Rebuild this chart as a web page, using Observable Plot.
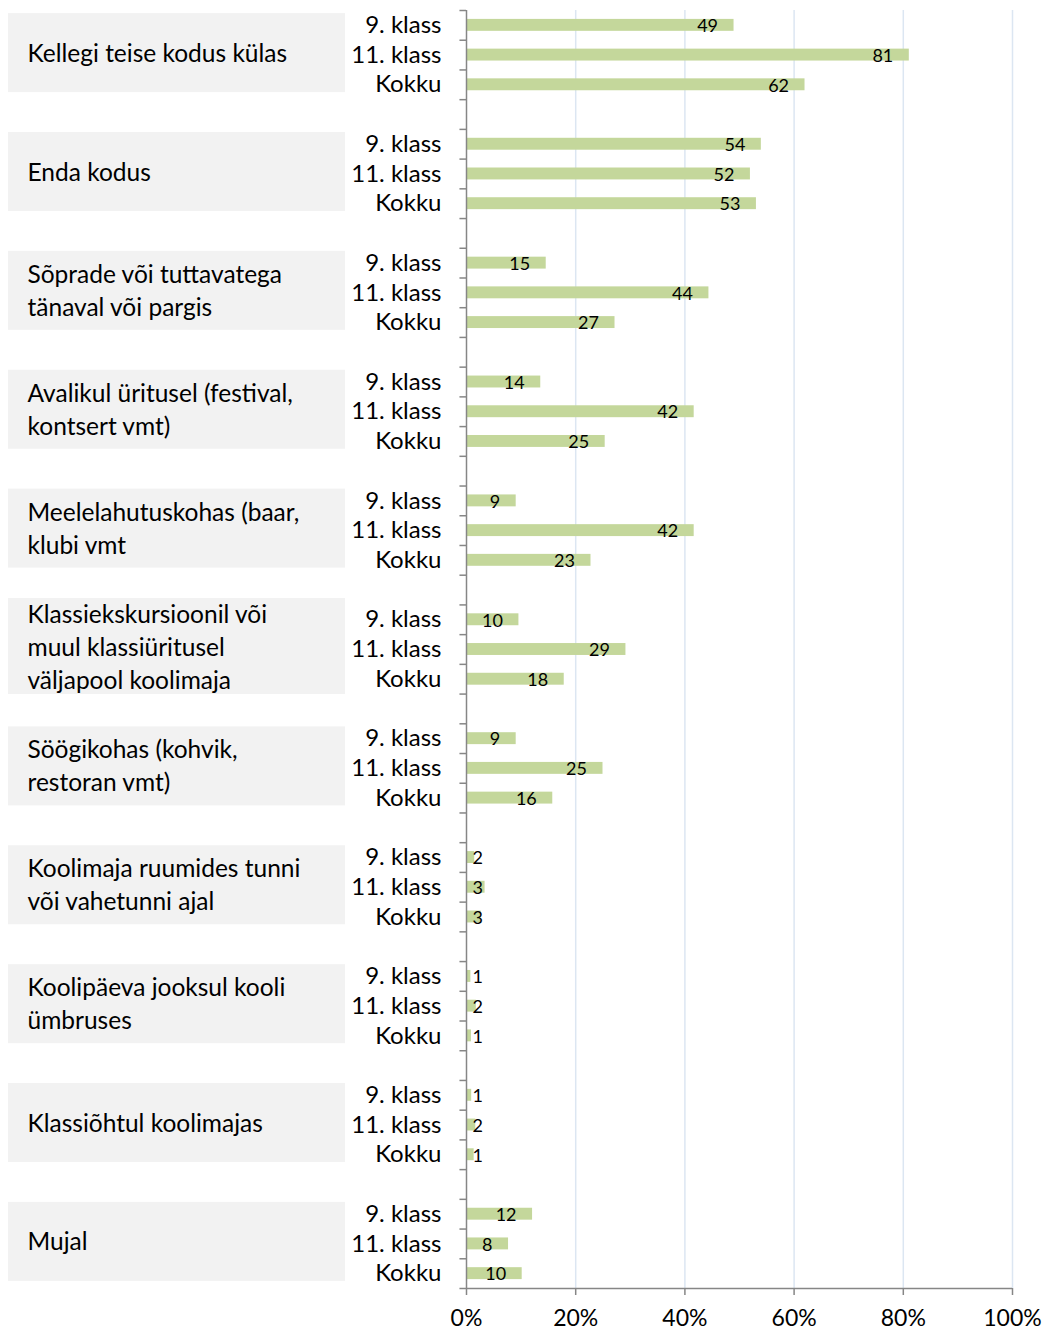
<!DOCTYPE html>
<html>
<head>
<meta charset="utf-8">
<script src="https://cdn.jsdelivr.net/npm/d3@7"></script>
<script src="https://cdn.jsdelivr.net/npm/@observablehq/plot@0.6"></script>
<style>
  html, body { margin: 0; padding: 0; background: #fff; }
  #chart { width: 1046px; height: 1331px; }
</style>
</head>
<body>
<div id="chart"></div>
<script>
// ---- data ----
const categories = [
  "Kellegi teise kodus külas",
  "Enda kodus",
  "Sõprade või tuttavatega\ntänaval või pargis",
  "Avalikul üritusel (festival,\nkontsert vmt)",
  "Meelelahutuskohas (baar,\nklubi vmt",
  "Klassiekskursioonil või\nmuul klassiüritusel\nväljapool koolimaja",
  "Söögikohas (kohvik,\nrestoran vmt)",
  "Koolimaja ruumides tunni\nvõi vahetunni ajal",
  "Koolipäeva jooksul kooli\nümbruses",
  "Klassiõhtul koolimajas",
  "Mujal"
];
const groups = ["9. klass", "11. klass", "Kokku"];
const klass9  = [49, 54, 14.6, 13.6, 9.1, 9.6, 9.1, 1.5, 0.8, 0.95, 12.1];
const klass11 = [81.1, 52, 44.4, 41.7, 41.7, 29.2, 25, 3.4, 1.8, 1.7, 7.7];
const kokku   = [62, 53.1, 27.2, 25.4, 22.8, 17.9, 15.8, 2.7, 0.9, 1.4, 10.2];
const xTicks  = [0, 20, 40, 60, 80, 100];

// ---- build table ----
const series = [klass9, klass11, kokku];
const rows = [];
const keys = [];
categories.forEach((cat, i) => {
  groups.forEach((g, j) => {
    const key = i + "|" + g;
    keys.push(key);
    rows.push({key, cat, group: g, value: series[j][i], lines: cat.split("\n").length});
  });
  if (i < categories.length - 1) keys.push(i + "|gap");
});
const midRows = rows.filter(d => d.group === groups[1]);
const barKeys = rows.map(d => d.key);

// ---- layout ----
const W = 1046, H = 1331;
const mTop = 10, mBottom = 43, mLeft = 466, mRight = 34;
const step = (H - mTop - mBottom) / keys.length;
const pxPerUnit = (W - mLeft - mRight) / 100;
const px = p => (p - mLeft) / pxPerUnit; // pixel x -> data x (for margin decorations)

const font = "Lato, 'Open Sans', sans-serif";
const fmt = d3.format(".0f");

const chart = Plot.plot({
  width: W,
  height: H,
  marginTop: mTop,
  marginBottom: mBottom,
  marginLeft: mLeft,
  marginRight: mRight,
  style: {fontFamily: font, fontSize: "24px", color: "#000", background: "#fff", overflow: "visible"},
  x: {domain: [0, 100], axis: null},
  y: {type: "band", domain: keys, paddingInner: 0, paddingOuter: 0, axis: null},
  marks: [
    // gridlines
    Plot.ruleX(xTicks.slice(1), {stroke: "#dce6f2", strokeWidth: 1.5}),
    // category label boxes
    Plot.barX(midRows.filter(d => d.lines < 3), {
      x1: px(8), x2: px(345), y: "key", fill: "#f2f2f2",
      insetTop: -(41.5 - step / 2), insetBottom: -(37.5 - step / 2)
    }),
    Plot.barX(midRows.filter(d => d.lines >= 3), {
      x1: px(8), x2: px(345), y: "key", fill: "#f2f2f2",
      insetTop: -(51 - step / 2), insetBottom: -(45 - step / 2)
    }),
    Plot.text(midRows, {
      x: px(8), y: "key", text: "cat", textAnchor: "start", dx: 19, dy: -4,
      fontSize: 24.5, lineHeight: 33 / 24.5, fill: "#000"
    }),
    // bars
    Plot.barX(rows, {x: "value", y: "key", fill: "#c4d79b", insetTop: 8.9, insetBottom: 8.9}),
    // value labels
    Plot.text(rows.filter(d => d.value >= 5), {
      x: "value", y: "key", text: d => fmt(d.value), textAnchor: "end", dx: -16, dy: 1, fontSize: 18, fill: "#000"
    }),
    Plot.text(rows.filter(d => d.value < 5), {
      x: 0, y: "key", text: d => fmt(d.value), textAnchor: "start", dx: 6, dy: 1, fontSize: 18, fill: "#000"
    }),
    // y axis line
    Plot.ruleX([0], {stroke: "#868686", strokeWidth: 1.5}),
    // boundary ticks
    Plot.ruleY(keys, {y: d => d, x1: -1.2, x2: 0, dy: -step / 2, stroke: "#868686", strokeWidth: 1.5}),
    // bottom axis line
    Plot.ruleY([keys[keys.length - 1]], {y: d => d, x1: -1.2, x2: 100, dy: step / 2, stroke: "#868686", strokeWidth: 1.5}),
    // group labels
    Plot.axisY({ticks: barKeys, tickFormat: k => k.split("|")[1], tickSize: 0, tickPadding: 25, fontSize: 24, label: null}),
    // x axis
    Plot.axisX({ticks: xTicks, tickFormat: d => d + "%", tickSize: 7, tickPadding: 14, fontSize: 23, stroke: "#868686", strokeWidth: 1.5, label: null})
  ]
});
document.getElementById("chart").appendChild(chart);
</script>
</body>
</html>
